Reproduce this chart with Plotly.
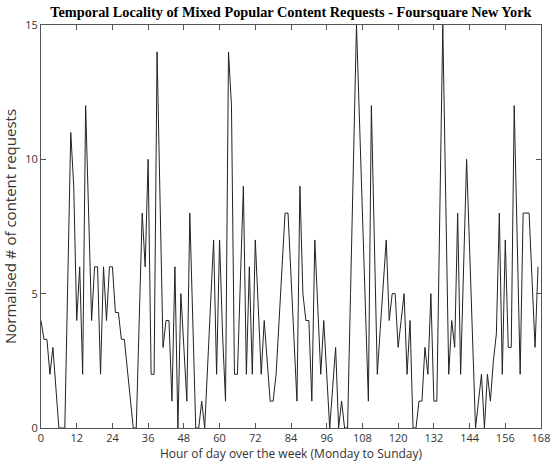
import plotly.graph_objects as go

hours = list(range(168))
requests = [
    4, 3.3, 3.3, 2, 3, 1.5, 0, 0, 0, 5.5,
    11, 9, 4, 6, 2, 12, 8, 4, 6, 6,
    2, 6, 4, 6, 6, 4.3, 4.3, 3.3, 3.3, 2.2,
    1.1, 0, 0, 4.3, 8, 6, 10, 2, 2, 14,
    8.5, 3, 4, 4, 1, 6, 0, 5, 3, 1,
    8, 4, 0, 0, 1, 0, 2.3, 4.7, 7, 2,
    7, 3.5, 1, 14, 12, 2, 2, 5.5, 9, 2,
    6, 2, 7, 4.5, 2, 4, 2.5, 1, 1, 2,
    4, 6, 8, 8, 5.7, 3.3, 1, 9, 5, 4,
    4, 1, 7, 4.5, 2, 4, 2, 0, 1.5, 3,
    0, 1, 0, 0, 5, 10, 15, 11.5, 8, 4.5,
    1, 12, 7, 2, 3.7, 5.3, 7, 4, 5, 5,
    3, 4, 5, 2, 4, 0, 0, 1, 1, 3,
    2, 5, 1, 1, 8, 15, 8.5, 2, 4, 3,
    8, 2, 6, 10, 6.7, 3.3, 0, 1, 2, 0,
    2, 1, 2.5, 3.5, 8, 2, 7, 3, 3, 12,
    7, 2, 8, 8, 8, 5.5, 3, 6,
]
x_ticks = list(range(0, 169, 12))
y_ticks = [0, 5, 10, 15]

title_text = "Temporal Locality of Mixed Popular Content Requests - Foursquare New York"
x_label = "Hour of day over the week (Monday to Sunday)"
y_label = "Normalised # of content requests"

sans = "Open Sans, Liberation Sans, sans-serif"

fig = go.Figure()
fig.add_trace(go.Scatter(x=hours, y=requests, mode="lines",
                         line=dict(color="#222222", width=1)))

axis_common = dict(showgrid=False, zeroline=False, showline=True, linecolor="#555555",
                   linewidth=1, mirror="ticks", ticks="inside", ticklen=5, automargin=False,
                   tickcolor="#555555", tickfont=dict(family=sans, size=11, color="#333333"))

fig.update_layout(
    width=553, height=468,
    margin=dict(l=41, r=12, t=25, b=40),
    paper_bgcolor="white", plot_bgcolor="white",
    showlegend=False,
    title=dict(text="<b>" + title_text + "</b>", x=0.526, xanchor="center", y=0.974, yanchor="middle",
               font=dict(family="Liberation Serif, Times New Roman, serif", size=14.3, color="black")),
    xaxis=dict(range=[0, 168], tickvals=x_ticks,
               title=dict(text=x_label, standoff=5,
                          font=dict(family=sans, size=12, color="#333333")),
               **axis_common),
    yaxis=dict(range=[0, 15], tickvals=y_ticks,
               title=dict(text=y_label, standoff=4,
                          font=dict(family=sans, size=15, color="#333333")),
               **axis_common),
)

fig.write_html("out.html", config={"displayModeBar": False},
               post_script="document.body.style.margin='0';document.body.style.overflow='hidden';")
